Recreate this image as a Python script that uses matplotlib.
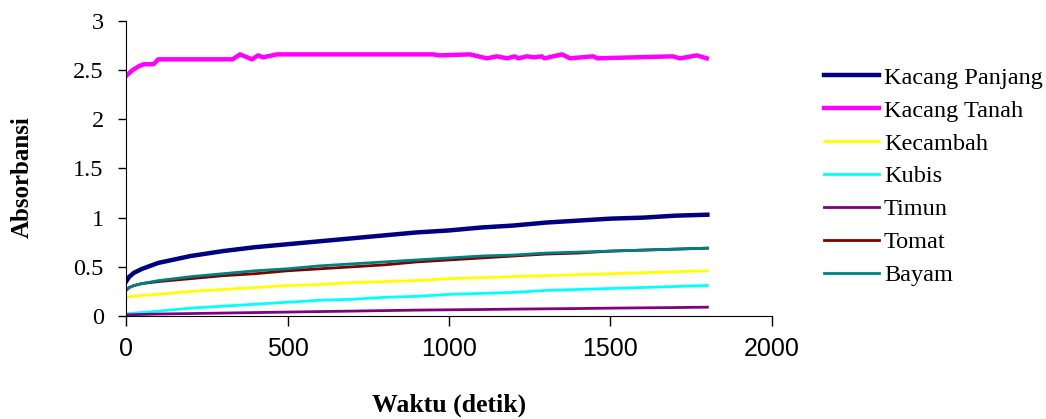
import numpy as np
import matplotlib.pyplot as plt

plt.rcParams['font.family'] = ['Liberation Serif', 'DejaVu Serif']

# data
t_smooth = [0, 10, 25, 50, 100, 200, 300, 400, 500, 600, 700, 800, 900,
            1000, 1100, 1200, 1300, 1400, 1500, 1600, 1700, 1800]
kacang_panjang = [0.35, 0.40, 0.44, 0.48, 0.54, 0.61, 0.66, 0.70, 0.73, 0.76, 0.79,
                  0.82, 0.85, 0.87, 0.90, 0.92, 0.95, 0.97, 0.99, 1.00, 1.02, 1.03]
bayam = [0.26, 0.29, 0.31, 0.33, 0.36, 0.40, 0.43, 0.46, 0.48, 0.51, 0.53,
         0.55, 0.57, 0.59, 0.61, 0.62, 0.64, 0.65, 0.66, 0.67, 0.68, 0.69]
tomat = [0.26, 0.29, 0.31, 0.33, 0.35, 0.38, 0.41, 0.43, 0.46, 0.48, 0.50,
         0.52, 0.55, 0.57, 0.59, 0.61, 0.63, 0.64, 0.66, 0.67, 0.68, 0.69]
kecambah = [0.19, 0.195, 0.20, 0.21, 0.22, 0.25, 0.27, 0.29, 0.31, 0.32, 0.34,
            0.35, 0.36, 0.38, 0.39, 0.40, 0.41, 0.42, 0.43, 0.44, 0.45, 0.46]
kubis = [0.02, 0.025, 0.03, 0.035, 0.05, 0.08, 0.10, 0.12, 0.14, 0.16, 0.17,
         0.19, 0.20, 0.22, 0.23, 0.24, 0.26, 0.27, 0.28, 0.29, 0.30, 0.31]
timun = [0.01, 0.012, 0.014, 0.016, 0.02, 0.025, 0.03, 0.035, 0.04, 0.045, 0.05,
         0.055, 0.06, 0.063, 0.066, 0.07, 0.073, 0.076, 0.08, 0.083, 0.086, 0.09]

t_tanah = [0, 20, 40, 55, 85, 100, 330, 353, 390, 409, 424, 467, 950, 970,
           1065, 1117, 1148, 1180, 1204, 1214, 1241, 1266, 1287, 1296, 1322,
           1350, 1375, 1446, 1460, 1693, 1715, 1734, 1767, 1798]
kacang_tanah = [2.44, 2.50, 2.54, 2.56, 2.56, 2.61, 2.61, 2.66, 2.61, 2.65, 2.63,
                2.66, 2.66, 2.65, 2.66, 2.62, 2.64, 2.62, 2.64, 2.62, 2.64, 2.63,
                2.64, 2.62, 2.64, 2.66, 2.62, 2.64, 2.62, 2.64, 2.62, 2.63, 2.65, 2.62]

fig = plt.figure(figsize=(10.46, 4.19), dpi=100)
ax = fig.add_axes([0.1205, 0.2458, 0.6175, 0.7042])

ax.plot(t_smooth, kacang_panjang, color='#000080', lw=3.2, label='Kacang Panjang')
ax.plot(t_tanah, kacang_tanah, color='#ff00ff', lw=3.2, label='Kacang Tanah')
ax.plot(t_smooth, kecambah, color='#ffff00', lw=2, label='Kecambah')
ax.plot(t_smooth, kubis, color='#00ffff', lw=2, label='Kubis')
ax.plot(t_smooth, timun, color='#800080', lw=2, label='Timun')
ax.plot(t_smooth, tomat, color='#800000', lw=2, label='Tomat')
ax.plot(t_smooth, bayam, color='#008080', lw=2, label='Bayam')

ax.set_xlim(0, 2000)
ax.set_ylim(0, 3)
ax.set_xticks([0, 500, 1000, 1500, 2000])
ax.set_yticks([0, 0.5, 1, 1.5, 2, 2.5, 3])
ax.set_yticklabels(['0', '0.5', '1', '1.5', '2', '2.5', '3'])
ax.tick_params(axis='y', labelsize=17.5, direction='out', length=6, width=1, pad=10)
ax.tick_params(axis='x', labelsize=18, direction='out', length=7, width=1, pad=8)
for lab in ax.get_xticklabels():
    lab.set_family('Liberation Sans')
for s in ['top', 'right']:
    ax.spines[s].set_visible(False)

ax.set_xlabel('Waktu (detik)', fontsize=18.5, fontweight='bold', va='center')
ax.xaxis.set_label_coords(0.5, -0.302)
ax.set_ylabel('Absorbansi', fontsize=18, fontweight='bold', va='center')
ax.yaxis.set_label_coords(-0.161, 0.47)

fig.legend(*ax.get_legend_handles_labels(), loc='upper left',
           bbox_to_anchor=(0.788, 0.841), frameon=False, fontsize=17.5,
           handlelength=2.25, handletextpad=0.2, labelspacing=0.45,
           borderaxespad=0, borderpad=0)

fig.savefig('out.png', dpi=100)
